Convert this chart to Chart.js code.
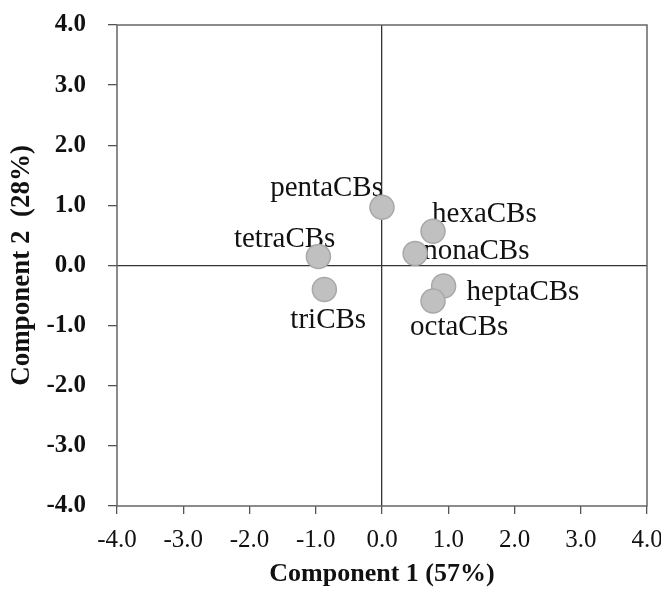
<!DOCTYPE html>
<html>
<head>
<meta charset="utf-8">
<script src="https://cdn.jsdelivr.net/npm/chart.js@4/dist/chart.umd.min.js"></script>
<style>
  html, body { margin: 0; padding: 0; background: #fff; }
  #wrap { width: 661px; height: 590px; }
</style>
</head>
<body>
<div id="wrap"><canvas id="pcaChart" width="661" height="590"></canvas></div>
<script>
// PCA scores
const groups = ['triCBs', 'tetraCBs', 'pentaCBs', 'hexaCBs', 'heptaCBs', 'octaCBs', 'nonaCBs'];
const comp1 = [-0.87, -0.96, 0.0, 0.77, 0.93, 0.77, 0.50];
const comp2 = [-0.40, 0.15, 0.97, 0.57, -0.34, -0.59, 0.20];
const axisTicks = [-4, -3, -2, -1, 0, 1, 2, 3, 4];

// where each name sits relative to its point
const labelPlace = {
    triCBs:   { dx: -34, dy: 38, align: 'left' },
    tetraCBs: { dx: 17, dy: -9, align: 'right' },
    pentaCBs: { dx: 1, dy: -11, align: 'right' },
    hexaCBs:  { dx: -1, dy: -9, align: 'left' },
    heptaCBs: { dx: 23, dy: 14, align: 'left' },
    octaCBs:  { dx: -23, dy: 34, align: 'left' },
    nonaCBs:  { dx: 8, dy: 6, align: 'left' }
};

const points = groups.map((g, i) => ({ x: comp1[i], y: comp2[i] }));
const serif = '"Liberation Serif", "Times New Roman", serif';

// names are drawn under the markers, like the original
const pointNames = {
    id: 'pointNames',
    beforeDatasetsDraw(chart) {
        const ctx = chart.ctx;
        const meta = chart.getDatasetMeta(0);
        ctx.save();
        ctx.font = '29px ' + serif;
        ctx.fillStyle = '#111';
        ctx.textBaseline = 'alphabetic';
        meta.data.forEach((el, i) => {
            const p = labelPlace[groups[i]];
            ctx.textAlign = p.align;
            ctx.fillText(groups[i], el.x + p.dx, el.y + p.dy);
        });
        ctx.restore();
    }
};

// frame around the plot area
const frame = {
    id: 'frame',
    afterDraw(chart) {
        const a = chart.chartArea;
        const ctx = chart.ctx;
        ctx.save();
        ctx.strokeStyle = '#666';
        ctx.lineWidth = 1.5;
        ctx.strokeRect(a.left, a.top, a.right - a.left, a.bottom - a.top);
        ctx.restore();
    }
};

const zeroLine = c => c.tick && c.tick.value === 0 ? '#333' : 'rgba(0,0,0,0)';

new Chart(document.getElementById('pcaChart'), {
    type: 'scatter',
    data: {
        datasets: [{
            data: points,
            backgroundColor: '#c0c0c0',
            borderColor: '#a8a8a8',
            borderWidth: 1.5,
            pointRadius: 12,
            pointHoverRadius: 12
        }]
    },
    options: {
        responsive: false,
        animation: false,
        events: [],
        layout: { padding: { top: 25, right: 14, left: 0, bottom: 0 } },
        plugins: { legend: { display: false }, tooltip: { enabled: false } },
        scales: {
            x: {
                min: -4, max: 4,
                afterBuildTicks: s => { s.ticks = axisTicks.map(v => ({ value: v })); },
                afterFit: s => { s.height = 84; s.paddingLeft = 0; s.paddingRight = 0; },
                grid: { color: zeroLine, tickColor: '#555', tickLength: 8, lineWidth: 1.3 },
                border: { display: false },
                ticks: {
                    padding: 11,
                    color: '#111',
                    font: { family: serif, size: 25 },
                    callback: v => Number(v).toFixed(1)
                },
                title: {
                    display: true,
                    text: 'Component 1 (57%)',
                    color: '#111',
                    font: { family: serif, size: 26, weight: 'bold' },
                    padding: { top: 0, bottom: 0 }
                }
            },
            y: {
                min: -4, max: 4,
                afterBuildTicks: s => { s.ticks = axisTicks.map(v => ({ value: v })); },
                afterFit: s => { s.width = 117; s.paddingTop = 0; s.paddingBottom = 0; },
                grid: { color: zeroLine, tickColor: '#555', tickLength: 9, lineWidth: 1.3 },
                border: { display: false },
                ticks: {
                    padding: 22,
                    color: '#111',
                    font: { family: serif, size: 25, weight: 'bold' },
                    callback: v => Number(v).toFixed(1)
                },
                title: {
                    display: true,
                    text: 'Component 2  (28%)',
                    color: '#111',
                    font: { family: serif, size: 27, weight: 'bold' },
                    padding: { top: 6, bottom: 0 }
                }
            }
        }
    },
    plugins: [pointNames, frame]
});
</script>
</body>
</html>
